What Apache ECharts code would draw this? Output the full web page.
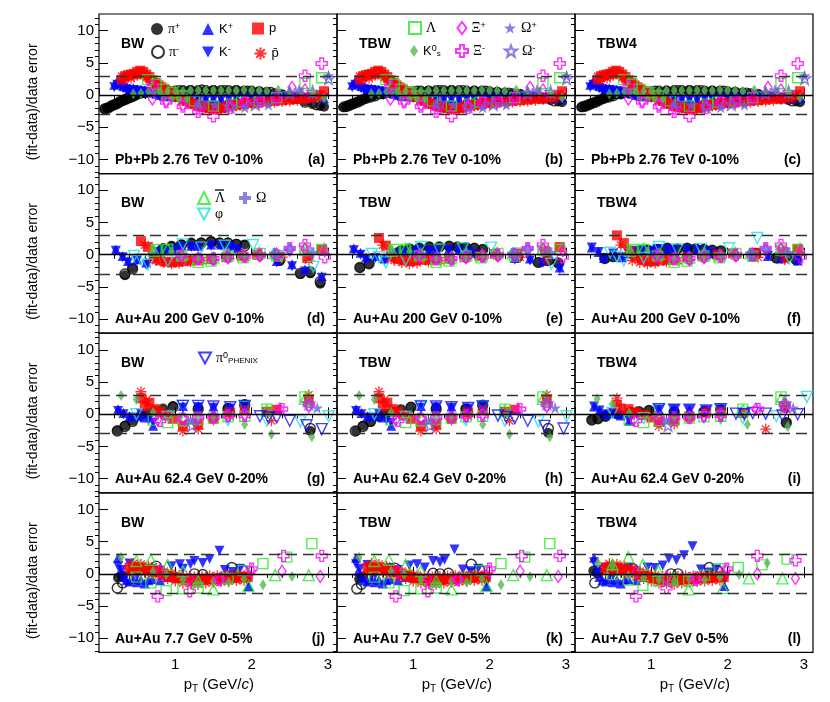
<!DOCTYPE html>
<html>
<head>
<meta charset="utf-8">
<title>(fit-data)/data error</title>
<script src="https://cdn.jsdelivr.net/npm/echarts@6/dist/echarts.min.js"></script>
<style>
  html, body { margin: 0; padding: 0; background: #fff; }
  #chart { width: 830px; height: 702px; }
</style>
</head>
<body>
<div id="chart"></div>
<script>
// ---- labels / ticks ----
var models = ['BW', 'TBW', 'TBW4'];
var systems = ['Pb+Pb 2.76 TeV 0-10%', 'Au+Au 200 GeV 0-10%', 'Au+Au 62.4 GeV 0-20%', 'Au+Au 7.7 GeV 0-5%'];
var tags = ['(a)', '(b)', '(c)', '(d)', '(e)', '(f)', '(g)', '(h)', '(i)', '(j)', '(k)', '(l)'];
var yMajor = [-10, -5, 0, 5, 10];
var yMinor = [-12, -11, -9, -8, -7, -6, -4, -3, -2, -1, 1, 2, 3, 4, 6, 7, 8, 9, 11, 12];
var xMajor = [0, 1, 2, 3];
var xLabels = [1, 2, 3];
var xMinor = [0.2, 0.4, 0.6, 0.8, 1.2, 1.4, 1.6, 1.8, 2.2, 2.4, 2.6, 2.8, 3.0];
var refLines = [0, 3, -3];

// ---- Pb+Pb 2.76 TeV ----
var pb_bw_pip = [[0.07,-2.2],[0.1,-2.0],[0.14,-1.9],[0.18,-1.6],[0.22,-1.4],[0.26,-1.2],[0.3,-0.9],[0.34,-0.7],[0.38,-0.5],[0.42,-0.3],[0.46,-0.1],[0.5,0.1],[0.55,0.2],[0.6,0.3],[0.65,0.4],[0.7,0.5],[0.8,0.6],[0.9,0.7],[1.0,0.7],[1.1,0.8],[1.2,0.8],[1.3,0.8],[1.4,0.8],[1.5,0.8],[1.6,0.8],[1.7,0.8],[1.8,0.8],[1.9,0.7],[2.0,0.7],[2.1,0.6],[2.2,0.5],[2.3,0.3],[2.4,0.1],[2.5,-0.2],[2.6,-0.6],[2.7,-1.0],[2.8,-1.4],[2.9,-1.7],[2.95,-1.8]];
var pb_bw_pim = [[0.08,-2.1],[0.12,-2.0],[0.16,-1.7],[0.2,-1.5],[0.24,-1.3],[0.28,-1.0],[0.32,-0.8],[0.36,-0.6],[0.4,-0.4],[0.44,-0.2],[0.48,0.0],[0.6,0.4],[0.75,0.5],[0.9,0.6],[1.05,0.7],[1.2,0.7],[1.35,0.8],[1.5,0.7],[1.65,0.7],[1.8,0.7],[1.95,0.6],[2.1,0.5],[2.25,0.4],[2.4,0.0],[2.55,-0.5],[2.7,-1.1],[2.85,-1.5]];
var pb_tbw_pip = [[0.08,-1.9],[0.12,-1.8],[0.16,-1.6],[0.2,-1.4],[0.24,-1.2],[0.28,-1.0],[0.32,-0.8],[0.36,-0.6],[0.4,-0.4],[0.45,-0.2],[0.5,0.0],[0.55,0.1],[0.6,0.2],[0.7,0.3],[0.8,0.4],[0.9,0.5],[1.0,0.6],[1.1,0.7],[1.2,0.7],[1.3,0.8],[1.4,0.8],[1.5,0.8],[1.6,0.8],[1.7,0.7],[1.8,0.7],[1.9,0.7],[2.0,0.6],[2.1,0.5],[2.2,0.4],[2.3,0.3],[2.4,0.1],[2.5,-0.1],[2.6,-0.3],[2.7,-0.5],[2.8,-0.8],[2.9,-1.0],[2.95,-1.1]];
var pb_tbw_pim = [[0.1,-1.8],[0.14,-1.7],[0.18,-1.5],[0.22,-1.3],[0.27,-1.1],[0.32,-0.8],[0.38,-0.5],[0.44,-0.3],[0.5,-0.1],[0.6,0.2],[0.75,0.4],[0.9,0.5],[1.05,0.6],[1.2,0.6],[1.35,0.7],[1.5,0.7],[1.65,0.7],[1.8,0.6],[1.95,0.6],[2.1,0.4],[2.25,0.3],[2.4,0.1],[2.55,-0.2],[2.7,-0.5],[2.85,-0.9]];
var pb_bw_kp = [[0.2,1.6],[0.24,2.2],[0.28,1.8],[0.32,1.4],[0.36,1.2],[0.4,1.0],[0.45,1.1],[0.5,0.9],[0.55,0.8],[0.6,0.7],[0.65,0.6],[0.7,0.4],[0.75,0.2],[0.8,0.0],[0.85,-0.1],[0.9,-0.2],[1.0,-0.3],[1.1,-0.4],[1.2,-0.5],[1.3,-0.6],[1.4,-0.6],[1.5,-0.6],[1.6,-0.6],[1.7,-0.5],[1.8,-0.5],[1.9,-0.4],[2.0,-0.4],[2.1,-0.3],[2.2,-0.3],[2.3,-0.3],[2.4,-0.2],[2.5,-0.2],[2.6,-0.2],[2.7,-0.3],[2.8,-0.4],[2.95,-0.5]];
var pb_bw_km = [[0.2,1.2],[0.24,1.6],[0.28,1.3],[0.32,1.1],[0.36,0.9],[0.4,0.8],[0.45,0.8],[0.5,0.7],[0.55,0.6],[0.6,0.5],[0.65,0.4],[0.7,0.3],[0.75,0.1],[0.8,-0.1],[0.85,-0.2],[0.9,-0.3],[1.0,-0.4],[1.1,-0.5],[1.2,-0.6],[1.3,-0.7],[1.4,-0.7],[1.5,-0.7],[1.6,-0.7],[1.7,-0.6],[1.8,-0.6],[1.9,-0.5],[2.0,-0.5],[2.1,-0.4],[2.2,-0.4],[2.3,-0.4],[2.4,-0.3],[2.5,-0.3],[2.6,-0.3],[2.7,-0.4],[2.8,-0.5],[2.95,-0.4]];
var pb_bw_p = [[0.3,2.4],[0.34,2.9],[0.38,3.1],[0.42,3.2],[0.46,3.3],[0.5,3.6],[0.54,3.8],[0.58,3.6],[0.62,3.2],[0.66,2.8],[0.7,2.3],[0.74,1.9],[0.78,1.5],[0.82,1.2],[0.86,0.9],[0.9,0.6],[0.95,0.3],[1.0,0.0],[1.05,-0.3],[1.1,-0.6],[1.15,-0.9],[1.2,-1.2],[1.25,-1.4],[1.3,-1.6],[1.35,-1.8],[1.4,-1.9],[1.45,-2.0],[1.5,-2.1],[1.55,-2.1],[1.6,-2.0],[1.65,-1.9],[1.7,-1.7],[1.75,-1.6],[1.8,-1.5],[1.85,-1.4],[1.9,-1.3],[1.95,-1.2],[2.0,-1.2],[2.1,-1.1],[2.2,-1.0],[2.3,-0.9],[2.4,-0.8],[2.5,-0.7],[2.6,-0.6],[2.7,-0.5],[2.8,-0.3],[2.9,0.0],[2.95,0.6]];
var pb_bw_pbar = [[0.3,2.9],[0.34,2.6],[0.38,2.9],[0.42,2.6],[0.46,3.0],[0.5,3.1],[0.54,3.3],[0.58,3.1],[0.62,2.8],[0.66,2.4],[0.7,2.0],[0.74,1.6],[0.78,1.3],[0.82,1.0],[0.86,0.7],[0.9,0.4],[0.95,0.1],[1.0,-0.2],[1.05,-0.5],[1.1,-0.8],[1.15,-1.0],[1.2,-1.3],[1.25,-1.5],[1.3,-1.7],[1.35,-1.9],[1.4,-2.0],[1.45,-2.1],[1.5,-2.2],[1.55,-2.2],[1.6,-2.1],[1.65,-2.0],[1.7,-1.9],[1.75,-1.8],[1.8,-1.7],[1.85,-1.6],[1.9,-1.5],[1.95,-1.4],[2.0,-1.4],[2.1,-1.3],[2.2,-1.2],[2.3,-1.1],[2.4,-1.0],[2.5,-0.9],[2.6,-0.8],[2.7,-0.7],[2.8,-0.6],[2.9,-0.3]];
var pb_lam = [[0.64,2.4],[0.75,1.7],[0.84,0.9],[0.97,0.4],[1.09,-0.1],[1.25,-0.9],[1.5,-1.7],[1.74,-1.4],[1.87,-1.1],[2.1,-0.9],[2.33,-0.4],[2.7,1.8],[2.92,2.7]];
var pb_k0s = [[0.45,0.2],[0.55,0.3],[0.65,0.5],[0.72,0.4],[0.8,0.5],[0.85,-0.5],[0.9,0.6],[0.95,-0.6],[1.0,0.6],[1.05,-0.5],[1.1,0.6],[1.15,-0.6],[1.2,0.7],[1.3,0.7],[1.4,0.7],[1.5,0.7],[1.6,0.7],[1.7,0.7],[1.8,0.7],[1.9,0.8],[2.0,0.7],[2.1,0.7],[2.2,0.6],[2.35,0.8],[2.5,0.6],[2.65,0.5],[2.8,0.3],[2.95,-0.4]];
var pb_xip = [[0.7,-0.6],[0.88,-0.9],[1.1,-1.5],[1.3,-2.1],[1.72,-1.5],[1.91,-0.9],[2.13,-0.9],[2.33,-0.3],[2.53,1.2],[2.7,0.8]];
var pb_xim = [[0.7,1.4],[0.88,-1.1],[1.1,-1.8],[1.3,-2.6],[1.5,-3.3],[1.72,-2.0],[1.91,-1.2],[2.1,-1.0],[2.33,-0.5],[2.7,3.0],[2.92,4.9]];
var pb_omp = [[1.3,-1.4],[1.52,-1.5],[1.91,-1.9],[2.22,-1.5],[2.62,0.8],[3.01,3.0]];
var pb_omm = [[1.35,-1.2],[1.72,-1.8],[2.05,-1.4],[2.5,0.3],[2.8,0.5],[3.01,2.6]];

// ---- Au+Au 200 GeV ----
var au200_bw_pip = [[0.34,-3.2],[0.44,-2.1],[0.84,1.0],[0.95,1.4],[1.08,1.6],[1.21,1.9],[1.34,1.9],[1.47,2.1],[1.58,1.9],[1.69,1.9],[1.8,1.7],[1.91,1.6],[2.37,-1.0],[2.64,-3.0],[2.77,-2.9],[2.9,-4.5]];
var au200_bw_pim = [[0.34,-3.0],[0.44,-2.2],[0.84,0.9],[0.95,1.2],[1.08,1.5],[1.21,1.7],[1.34,1.8],[1.47,2.0],[1.58,1.8],[1.69,1.8],[1.8,1.6],[1.91,1.4],[2.37,-0.8],[2.64,-2.9],[2.77,-2.7],[2.9,-4.2]];
var au200_bw_kp = [[0.22,0.8],[0.31,-0.2],[0.38,-1.0],[0.5,-0.7],[0.62,-1.2],[0.7,-0.2],[0.77,0.6],[0.88,0.8],[0.99,1.0],[1.08,1.4],[1.21,1.4],[1.3,1.4],[1.47,1.6],[1.6,1.6],[1.73,1.4],[1.82,1.0],[2.33,-1.0],[2.53,-1.5],[2.7,-2.3],[2.92,-3.3]];
var au200_bw_km = [[0.22,0.6],[0.31,-0.4],[0.38,-1.2],[0.5,-0.9],[0.62,-1.6],[0.7,-0.4],[0.77,0.4],[0.88,0.6],[0.99,0.8],[1.08,1.2],[1.21,1.2],[1.3,1.2],[1.47,1.4],[1.6,1.4],[1.73,1.2],[1.82,0.8],[2.33,-1.2],[2.53,-1.8],[2.7,-2.6],[2.92,-3.6]];
var au200_bw_p = [[0.55,2.1],[0.64,1.2],[0.72,-0.6],[0.8,-0.9],[0.88,-1.1],[0.96,-1.2],[1.04,-1.1],[1.12,-1.0],[1.21,-0.9],[1.3,-0.8],[1.47,-0.7],[1.67,-0.4],[1.87,-0.2],[2.07,0.0],[2.37,-0.3],[2.73,-0.5],[2.92,0.8]];
var au200_bw_pbar = [[0.6,1.5],[0.75,-0.9],[0.85,-1.2],[0.95,-1.4],[1.05,-1.3],[1.2,-1.1],[1.35,-0.9],[1.5,-0.8],[1.7,-0.5],[1.9,-0.3],[2.1,-0.2],[2.4,-0.4],[2.75,-0.8]];
var au200_lam = [[0.75,0.8],[0.9,0.8],[1.08,-0.2],[1.3,-1.2],[1.47,-1.0],[1.69,-0.2],[1.89,-0.5],[2.11,0.2],[2.33,-0.2],[2.7,0.7],[2.92,0.8]];
var au200_lambar = [[0.72,0.6],[0.9,0.9],[1.1,0.1],[1.3,-0.6],[1.5,-0.4],[1.7,0.1],[1.9,-0.1],[2.1,0.3],[2.3,0.2],[2.7,1.0],[2.95,0.9]];
var au200_k0s = [[0.72,0.6],[0.95,0.5],[1.08,-0.3],[1.3,-0.6],[1.5,-0.7],[1.69,-0.4],[1.9,-0.2],[2.11,-0.1],[2.33,-0.1],[2.7,0.5]];
var au200_xip = [[1.08,-0.3],[1.3,-0.5],[1.5,-0.8],[1.69,-0.5],[1.91,-0.2],[2.11,-0.2],[2.33,0.1],[2.5,0.7],[2.7,0.9],[2.96,0.6]];
var au200_xim = [[1.08,-0.1],[1.3,-0.7],[1.5,-0.6],[1.69,-0.3],[1.91,-0.3],[2.11,0.0],[2.33,-0.1],[2.5,1.0],[2.7,1.5],[2.96,-0.4]];
var au200_omega = [[2.3,0.2],[2.5,0.9],[2.8,0.3]];
var au200_bw_phi = [[0.46,-0.2],[0.55,-0.7],[0.64,-1.5],[0.9,-1.0],[1.1,1.6],[1.34,1.1],[1.65,1.4],[2.02,1.5],[2.39,-0.2],[2.81,-1.9]];
var au200_tbw_pip = [[0.3,-2.0],[0.42,-1.4],[0.84,0.6],[0.95,0.9],[1.08,1.0],[1.21,1.2],[1.34,1.2],[1.47,1.3],[1.58,1.2],[1.69,1.1],[1.8,1.0],[1.91,0.8],[2.37,-0.3],[2.64,-1.2],[2.77,-0.9],[2.9,-1.3]];
var au200_tbw_kp = [[0.22,1.0],[0.31,0.3],[0.38,-0.4],[0.5,-0.2],[0.62,-0.6],[0.7,0.0],[0.77,0.4],[0.88,0.5],[0.99,0.6],[1.08,0.8],[1.21,0.8],[1.3,0.7],[1.47,0.9],[1.6,0.8],[1.73,0.6],[1.82,0.3],[2.33,-0.5],[2.53,-0.6],[2.7,-1.0],[2.92,-2.0]];
var au200_tbw_km = [[0.22,0.7],[0.31,0.0],[0.38,-0.7],[0.5,-0.5],[0.62,-0.9],[0.7,-0.3],[0.77,0.2],[0.88,0.3],[0.99,0.4],[1.08,0.6],[1.21,0.6],[1.3,0.5],[1.47,0.7],[1.6,0.6],[1.73,0.4],[1.82,0.1],[2.33,-0.8],[2.53,-0.9],[2.7,-1.3],[2.92,-2.2]];
var au200_tbw_p = [[0.55,2.6],[0.64,1.4],[0.72,-0.4],[0.8,-0.7],[0.88,-0.9],[0.96,-1.0],[1.04,-0.9],[1.12,-0.8],[1.21,-0.8],[1.3,-0.7],[1.47,-0.6],[1.67,-0.4],[1.87,-0.2],[2.07,0.1],[2.37,0.2],[2.73,0.5],[2.92,1.2]];
var au200_tbw_phi = [[0.46,0.1],[0.55,-0.4],[0.64,-1.2],[0.9,-0.8],[1.1,1.2],[1.34,0.8],[1.65,1.0],[2.02,1.1],[2.39,0.2],[2.81,-1.4]];
var au200_tbw4_pip = [[0.39,-0.6],[0.5,-0.3],[0.84,0.5],[0.95,0.7],[1.08,0.8],[1.21,1.0],[1.34,0.9],[1.47,1.0],[1.58,0.9],[1.69,0.8],[1.8,0.7],[1.91,0.6],[2.37,0.2],[2.64,-0.5],[2.77,-0.3],[2.9,-0.8]];
var au200_tbw4_kp = [[0.22,1.1],[0.31,0.4],[0.38,-0.5],[0.5,0.2],[0.62,-0.4],[0.7,0.2],[0.77,0.6],[0.88,0.7],[0.99,0.6],[1.08,0.9],[1.21,0.8],[1.3,0.7],[1.47,0.8],[1.6,0.7],[1.73,0.5],[1.82,0.2],[2.33,-0.3],[2.53,-0.2],[2.7,-0.6],[2.92,-0.9]];
var au200_tbw4_p = [[0.55,3.0],[0.64,1.8],[0.72,0.5],[0.8,-0.3],[0.88,-0.8],[0.96,-1.0],[1.04,-1.0],[1.12,-0.9],[1.21,-0.8],[1.3,-0.6],[1.47,-0.4],[1.67,-0.2],[1.87,0.0],[2.07,0.2],[2.37,0.3],[2.73,0.4],[2.92,0.9]];
var au200_tbw4_phi = [[0.46,0.3],[0.55,-0.3],[0.64,-0.9],[0.9,-0.5],[1.1,1.2],[1.34,0.8],[1.65,0.9],[2.02,1.0],[2.39,2.6],[2.81,-0.6]];

// ---- Au+Au 62.4 GeV ----
var au62_bw_pip = [[0.24,-2.5],[0.34,-1.8],[0.44,-1.0],[0.55,-0.2],[0.64,0.2],[0.73,0.5],[0.84,0.9],[0.97,1.3],[1.3,1.0],[1.69,1.0],[1.91,1.6],[2.77,-2.6]];
var au62_bw_pim = [[0.24,-2.6],[0.34,-1.9],[0.44,-1.1],[0.97,1.1],[1.3,0.8],[1.69,0.8],[1.91,1.4],[2.77,-2.2]];
var au62_bw_kp = [[0.25,0.8],[0.32,0.2],[0.4,-0.3],[0.5,-0.3],[0.6,-0.5],[0.71,-1.8],[1.1,1.3],[1.3,1.3],[1.5,1.2],[1.72,1.1],[1.91,1.3]];
var au62_bw_km = [[0.25,0.5],[0.32,0.0],[0.42,-0.5],[0.55,0.1],[0.65,-0.9],[0.71,-1.3],[1.1,1.0],[1.3,1.1],[1.5,1.0],[1.72,0.9],[1.91,1.0]];
var au62_bw_p = [[0.55,2.5],[0.6,1.3],[0.66,1.8],[0.73,0.8],[0.8,0.3],[0.88,-0.2],[0.97,-0.7],[1.1,-1.8],[1.3,-1.6],[1.5,-0.6],[1.72,0.3],[1.91,0.6],[2.2,0.4],[2.33,0.7],[2.75,2.1]];
var au62_bw_pbar = [[0.55,3.5],[0.62,2.2],[0.8,0.6],[1.1,-2.6],[1.3,-2.3],[1.5,-0.9],[1.72,-0.3],[2.26,-1.0],[2.75,3.0]];
var au62_bw_k0s = [[0.29,2.9],[0.49,2.3],[0.71,0.3],[1.06,-0.5],[1.3,-0.6],[1.5,-0.7],[1.91,-1.6],[2.26,-3.1],[2.79,-3.5]];
var au62_lam = [[0.71,-0.9],[0.9,-1.3],[1.1,-1.0],[1.3,-0.8],[1.5,-0.6],[1.69,-0.4],[1.91,-0.3],[2.2,0.8],[2.7,2.7]];
var au62_lambar = [[2.2,0.6],[2.7,2.4]];
var au62_xip = [[0.77,-0.8],[1.1,-0.6],[1.3,-0.6],[1.5,-0.4],[1.69,-0.3],[1.91,0.0],[2.37,0.8],[2.75,1.2]];
var au62_xim = [[0.8,-1.0],[1.1,-0.7],[1.3,-0.5],[1.5,-0.5],[1.69,-0.2],[1.91,-0.2],[2.4,0.8],[2.75,1.5]];
var au62_omp = [[1.2,-1.0],[2.86,1.0]];
var au62_omm = [[1.22,-1.7],[2.75,1.7]];
var au62_bw_phi = [[0.49,0.0],[0.9,-0.4],[1.1,1.3],[1.69,-0.9],[1.91,1.2],[2.2,-1.0],[2.64,-1.1],[3.01,-0.3]];
var au62_bw_pi0 = [[1.1,1.3],[1.3,1.3],[1.5,1.2],[1.72,1.1],[1.91,1.3],[2.11,-0.3],[2.22,-0.5],[2.33,-0.5],[2.5,-1.0],[2.72,-1.7],[2.92,-2.3]];
var au62_tbw_pip = [[0.25,-2.6],[0.34,-1.8],[0.44,-1.2],[0.55,-0.4],[0.64,0.1],[0.73,0.4],[0.84,0.8],[0.97,1.1],[1.3,1.0],[1.69,0.9],[1.91,1.4],[2.77,-2.9]];
var au62_tbw_pi0 = [[1.1,1.2],[1.3,1.2],[1.5,1.1],[1.72,1.0],[1.91,1.2],[2.11,-0.2],[2.22,-0.4],[2.33,-0.6],[2.5,-1.0],[2.72,-1.8],[2.97,-2.2]];
var au62_tbw4_pip = [[0.22,-0.9],[0.3,-0.7],[0.4,-0.3],[0.55,0.1],[0.73,0.3],[0.84,0.4],[0.97,0.6],[1.3,0.4],[1.69,0.4],[1.91,0.7],[2.77,-1.3]];
var au62_tbw4_kp = [[0.25,1.2],[0.32,0.6],[0.4,0.0],[0.5,0.2],[0.6,-0.2],[0.71,-1.0],[1.1,0.8],[1.3,0.8],[1.5,0.7],[1.72,0.6],[1.91,0.8]];
var au62_tbw4_p = [[0.55,1.5],[0.6,0.9],[0.7,0.8],[0.8,0.3],[0.9,-0.1],[1.0,-0.5],[1.1,-1.2],[1.3,-1.0],[1.5,-0.3],[1.72,0.3],[1.91,0.4],[2.2,0.2],[2.75,1.0]];
var au62_tbw4_pbar = [[0.55,2.5],[0.8,0.4],[1.1,-1.8],[1.3,-1.5],[1.5,-0.6],[2.5,-2.3],[2.75,1.5]];
var au62_tbw4_k0s = [[0.29,2.4],[0.49,1.6],[0.71,0.2],[1.06,-0.3],[1.3,-0.4],[1.5,-0.4],[1.91,-0.8],[2.26,-1.6],[2.79,-1.9]];
var au62_tbw4_phi = [[0.49,0.2],[0.9,-0.6],[1.1,0.7],[1.69,-0.5],[1.91,0.8],[2.2,-0.6],[2.64,-0.3],[3.04,2.7]];
var au62_tbw4_pi0 = [[1.1,0.8],[1.3,0.7],[1.5,0.7],[1.72,0.6],[1.91,0.8],[2.11,0.1],[2.22,0.0],[2.33,0.2],[2.5,0.1],[2.72,-0.2],[2.92,0.0]];

// ---- Au+Au 7.7 GeV ----
var au7_bw_pip = [[0.25,-0.6],[0.3,-0.3]];
var au7_bw_pim = [[0.24,-2.2],[0.31,-1.4],[0.37,-0.8],[0.75,1.2],[1.25,0.0],[1.36,-0.1],[1.74,1.0],[1.89,0.5]];
var au7_kp = [[0.25,2.5],[0.28,0.5],[0.32,-0.5],[0.36,-1.0],[0.4,-1.2],[0.45,-0.8],[0.5,-1.3],[0.55,-0.9],[0.6,-1.5],[0.65,-1.0],[0.7,-0.8],[0.8,-1.0],[0.9,-0.5],[1.0,-0.6],[1.96,-1.9]];
var au7_bw_km = [[0.25,1.2],[0.3,0.6],[0.35,-0.4],[0.4,1.6],[0.5,-0.3],[0.6,0.2],[0.7,0.8],[0.8,0.5],[0.95,1.2],[1.06,1.5],[1.1,0.8],[1.2,1.5],[1.25,2.0],[1.36,1.7],[1.45,2.3],[1.58,3.6],[1.65,0.6],[1.75,0.3],[1.85,0.8],[1.95,-1.2]];
var au7_p = [[0.4,1.0],[0.45,1.1],[0.5,0.9],[0.55,1.0],[0.6,0.8],[0.65,0.7],[0.7,0.5],[0.75,0.4],[0.8,0.2],[0.85,0.0],[0.9,-0.2],[0.95,-0.4],[1.0,-0.5],[1.05,-0.7],[1.1,-0.8],[1.15,-0.9],[1.2,-1.0],[1.25,-1.0],[1.3,-1.0],[1.35,-0.9],[1.4,-0.9],[1.45,-0.8],[1.5,-0.8],[1.55,-0.8],[1.6,-0.7],[1.65,-0.7],[1.7,-0.6],[1.75,-0.6],[1.8,-0.6],[1.85,-0.5],[1.9,-0.5],[1.95,-0.5]];
var au7_pbar = [[0.4,0.3],[0.45,1.6],[0.5,0.5],[0.55,1.5],[0.6,0.2],[0.65,1.2],[0.7,0.0],[0.75,0.9],[0.8,-0.4],[0.85,0.4],[0.9,-0.7],[0.95,0.1],[1.0,-1.1],[1.05,-0.2],[1.1,-1.4],[1.15,-0.4],[1.2,-1.5],[1.25,-0.5],[1.3,-1.6],[1.35,-0.4],[1.4,-1.4],[1.45,-0.3],[1.5,-1.3],[1.55,-0.3],[1.6,-1.2],[1.65,-0.2],[1.7,-1.1],[1.75,-0.2],[1.8,-1.0],[1.85,-0.1],[1.9,-1.0],[1.95,-0.1]];
var au7_bw_lam = [[0.49,-0.5],[0.68,-1.4],[0.88,-2.6],[1.1,-2.3],[1.3,-2.2],[1.69,-0.7],[1.89,0.5],[2.15,1.6],[2.46,2.6],[2.79,4.7]];
var au7_bw_lambar = [[0.49,2.0],[0.68,2.2],[0.9,1.4],[1.1,0.4],[1.3,-1.1],[1.5,-2.4],[1.96,-1.9],[2.31,-0.2],[2.75,-0.2]];
var au7_bw_k0s = [[0.29,2.6],[0.71,0.4],[0.88,-0.1],[1.1,-0.9],[1.3,-1.6],[1.5,-1.2],[1.7,-1.3],[1.9,-0.8],[2.15,-1.7],[2.53,-0.4]];
var au7_bw_xim = [[0.77,-3.5],[1.19,-2.7],[1.58,-0.9],[2.0,0.8],[2.42,2.8],[2.92,2.8]];
var au7_bw_xip = [[0.8,0.4],[1.19,-0.7],[1.58,-0.8],[2.0,0.4],[2.4,0.4],[2.9,-0.4]];
var au7_tbw_pip = [[0.29,-0.8],[0.33,-0.4]];
var au7_tbw_pim = [[0.26,-2.3],[0.32,-1.6],[0.4,-0.6],[0.76,0.9],[1.26,0.1],[1.35,0.0],[1.46,0.1],[1.76,1.5],[1.87,0.6]];
var au7_tbw_km = [[0.25,1.5],[0.3,0.8],[0.4,1.4],[0.5,-0.2],[0.6,0.4],[0.7,0.9],[0.8,0.6],[0.95,1.3],[1.05,1.5],[1.15,1.0],[1.26,2.0],[1.35,1.8],[1.41,2.2],[1.54,3.8],[1.65,0.7],[1.75,0.4],[1.85,0.8],[1.96,-1.3]];
var au7_tbw4_pip = [[0.24,0.5],[0.3,0.2]];
var au7_tbw4_pim = [[0.26,-1.4],[0.3,0.2],[0.4,-0.3],[0.76,0.8],[1.26,0.0],[1.35,0.0],[1.76,1.0],[1.87,0.5]];
var au7_tbw4_km = [[0.25,1.8],[0.3,0.6],[0.4,0.9],[0.5,-0.2],[0.6,0.4],[0.7,0.9],[0.8,0.4],[0.95,1.0],[1.05,0.9],[1.15,1.3],[1.23,2.4],[1.33,2.1],[1.43,2.9],[1.54,4.3],[1.65,0.7],[1.75,0.2],[1.85,0.7],[1.96,-0.9]];
var au7_tbw4_lam = [[0.49,-0.1],[0.7,-0.9],[0.89,-1.8],[1.09,-1.1],[1.28,-1.0],[1.49,-1.1],[1.7,-0.2],[1.89,0.8],[2.14,1.0],[2.45,1.4],[2.78,2.3]];
var au7_tbw4_lambar = [[0.49,1.5],[0.7,2.6],[0.89,1.4],[1.09,0.5],[1.28,-0.7],[1.49,-2.4],[1.94,-2.2],[2.28,-0.7],[2.72,-0.7]];
var au7_tbw4_xim = [[0.8,-3.5],[1.2,-2.2],[1.58,-0.9],[1.99,0.8],[2.39,2.8],[2.89,2.1]];
var au7_tbw4_xip = [[0.8,0.3],[1.2,-0.5],[1.58,-0.6],[1.99,0.5],[2.39,0.0],[2.89,-0.7]];
var au7_tbw4_k0s = [[0.3,1.7],[0.49,1.2],[0.7,-0.3],[0.9,-0.6],[1.1,-0.9],[1.3,-1.1],[1.5,-0.8],[1.7,-0.9],[1.9,-0.5],[2.15,-0.1],[2.52,1.7]];

// panel contents (row by row)
var panels = [
  {pim: pb_bw_pim, pip: pb_bw_pip, km: pb_bw_km, kp: pb_bw_kp, pbar: pb_bw_pbar, p: pb_bw_p, lam: pb_lam, k0s: pb_k0s, xip: pb_xip, xim: pb_xim, omp: pb_omp, omm: pb_omm},
  {pim: pb_tbw_pim, pip: pb_tbw_pip, km: pb_bw_km, kp: pb_bw_kp, pbar: pb_bw_pbar, p: pb_bw_p, lam: pb_lam, k0s: pb_k0s, xip: pb_xip, xim: pb_xim, omp: pb_omp, omm: pb_omm},
  {pim: pb_tbw_pim, pip: pb_tbw_pip, km: pb_bw_km, kp: pb_bw_kp, pbar: pb_bw_pbar, p: pb_bw_p, lam: pb_lam, k0s: pb_k0s, xip: pb_xip, xim: pb_xim, omp: pb_omp, omm: pb_omm},
  {pim: au200_bw_pim, pip: au200_bw_pip, km: au200_bw_km, kp: au200_bw_kp, pbar: au200_bw_pbar, p: au200_bw_p, lam: au200_lam, lambar: au200_lambar, k0s: au200_k0s, phi: au200_bw_phi, xip: au200_xip, xim: au200_xim, omega: au200_omega},
  {pim: au200_tbw_pip, pip: au200_tbw_pip, km: au200_tbw_km, kp: au200_tbw_kp, pbar: au200_bw_pbar, p: au200_tbw_p, lam: au200_lam, lambar: au200_lambar, k0s: au200_k0s, phi: au200_tbw_phi, xip: au200_xip, xim: au200_xim, omega: au200_omega},
  {pim: au200_tbw4_pip, pip: au200_tbw4_pip, km: au200_tbw4_kp, kp: au200_tbw4_kp, pbar: au200_bw_pbar, p: au200_tbw4_p, lam: au200_lam, lambar: au200_lambar, k0s: au200_k0s, phi: au200_tbw4_phi, xip: au200_xip, xim: au200_xim, omega: au200_omega},
  {pim: au62_bw_pim, pip: au62_bw_pip, km: au62_bw_km, kp: au62_bw_kp, pbar: au62_bw_pbar, p: au62_bw_p, lam: au62_lam, lambar: au62_lambar, k0s: au62_bw_k0s, phi: au62_bw_phi, pi0: au62_bw_pi0, xip: au62_xip, xim: au62_xim, omp: au62_omp, omm: au62_omm},
  {pim: au62_bw_pim, pip: au62_tbw_pip, km: au62_bw_km, kp: au62_bw_kp, pbar: au62_bw_pbar, p: au62_bw_p, lam: au62_lam, lambar: au62_lambar, k0s: au62_bw_k0s, phi: au62_bw_phi, pi0: au62_tbw_pi0, xip: au62_xip, xim: au62_xim, omp: au62_omp, omm: au62_omm},
  {pim: au62_tbw4_pip, pip: au62_tbw4_pip, km: au62_tbw4_kp, kp: au62_tbw4_kp, pbar: au62_tbw4_pbar, p: au62_tbw4_p, lam: au62_lam, lambar: au62_lambar, k0s: au62_tbw4_k0s, phi: au62_tbw4_phi, pi0: au62_tbw4_pi0, xip: au62_xip, xim: au62_xim, omp: au62_omp, omm: au62_omm},
  {pim: au7_bw_pim, pip: au7_bw_pip, km: au7_bw_km, kp: au7_kp, pbar: au7_pbar, p: au7_p, lam: au7_bw_lam, lambar: au7_bw_lambar, k0s: au7_bw_k0s, xip: au7_bw_xip, xim: au7_bw_xim},
  {pim: au7_tbw_pim, pip: au7_tbw_pip, km: au7_tbw_km, kp: au7_kp, pbar: au7_pbar, p: au7_p, lam: au7_bw_lam, lambar: au7_bw_lambar, k0s: au7_bw_k0s, xip: au7_bw_xip, xim: au7_bw_xim},
  {pim: au7_tbw4_pim, pip: au7_tbw4_pip, km: au7_tbw4_km, kp: au7_kp, pbar: au7_pbar, p: au7_p, lam: au7_tbw4_lam, lambar: au7_tbw4_lambar, k0s: au7_tbw4_k0s, xip: au7_tbw4_xip, xim: au7_tbw4_xim}
];

// marker shapes
var TRI_DN = 'path://M0,0L10,0L5,9Z';
var CROSS = 'path://M3.3,0H6.7V3.3H10V6.7H6.7V10H3.3V6.7H0V3.3H3.3Z';
var STAR = 'path://M5,0L6.2,3.6L10,3.6L7,5.9L8.1,9.5L5,7.3L1.9,9.5L3,5.9L0,3.6L3.8,3.6Z';
var ASTER = 'path://M5,0V10M0,5H10M1.5,1.5L8.5,8.5M8.5,1.5L1.5,8.5';
var SLATE = '#6a62d6';

var STY = {
  pim:    {sym: 'circle', size: 10, open: true, c: '#000'},
  pip:    {sym: 'circle', size: 10, c: '#000'},
  km:     {sym: TRI_DN, size: 10, c: '#0000ff'},
  kp:     {sym: 'triangle', size: 10, c: '#0000ff'},
  pbar:   {sym: ASTER, size: 11, line: true, c: '#ff0000'},
  p:      {sym: 'rect', size: 10, c: '#ff0000'},
  lam:    {sym: 'rect', size: 10, open: true, c: '#22ee22'},
  lambar: {sym: 'triangle', size: 11, open: true, c: '#22ee22'},
  k0s:    {sym: 'diamond', size: [7, 11], c: '#55b855'},
  phi:    {sym: TRI_DN, size: 11, open: true, c: '#22dede'},
  pi0:    {sym: TRI_DN, size: 11, open: true, c: '#1010ff'},
  xip:    {sym: 'diamond', size: [8, 12], open: true, c: '#ff00ff'},
  xim:    {sym: CROSS, size: 11, open: true, c: '#ff00ff'},
  omp:    {sym: STAR, size: 12, c: SLATE},
  omm:    {sym: STAR, size: 12, open: true, c: SLATE},
  omega:  {sym: CROSS, size: 11, c: SLATE}
};
var ORDER = ['pim', 'pip', 'km', 'kp', 'pbar', 'p', 'lam', 'lambar', 'k0s', 'phi', 'pi0', 'xip', 'xim', 'omp', 'omm', 'omega'];

var LABEL = {
  pip: '{g|π}{sup|+}', pim: '{g|π}{sup|-}', kp: '{n|K}{sup|+}', km: '{n|K}{sup|-}',
  p: '{n|p}', pbar: '{n|p\u0304}', lam: '{g|Λ}', k0s: '{n|K}{sup|0}{sub|s}',
  xip: '{g|Ξ}{sup|+}', xim: '{g|Ξ}{sup|-}', omp: '{g|Ω}{sup|+}', omm: '{g|Ω}{sup|-}',
  lambar: '{g|Λ}', omega: '{g|Ω}', phi: '{g|φ}', pi0: '{g|π}{sup|0}{sub|PHENIX}'
};
// legend entries: name, icon centre x, y
var LEG = [
  ['pip', 157, 29], ['kp', 208, 29], ['p', 258, 29],
  ['pim', 157, 52], ['km', 208, 52], ['pbar', 258, 52],
  ['lam', 414, 28], ['xip', 461, 28], ['omp', 510, 28],
  ['k0s', 414, 51], ['xim', 461, 51], ['omm', 510, 51],
  ['lambar', 203, 198], ['omega', 245, 198], ['phi', 203, 214],
  ['pi0', 204, 358]
];

var FONT = '"Liberation Sans", Arial, Helvetica, sans-serif';
var SERIF = '"Liberation Serif", "DejaVu Serif", serif';
var GX = 99, GY = 14, GW = 238, GH = 159.6;

function styleOf(s) {
  if (s.open) return {color: 'rgba(0,0,0,0)', borderColor: s.c, borderWidth: 1.4};
  if (s.line) return {color: 'none', borderColor: s.c, borderWidth: 1.3};
  return {color: s.c};
}
function minus(v) { return v < 0 ? '\u2212' + (-v) : String(v); }

var grids = [], xAxes = [], yAxes = [], series = [], graphics = [], legends = [];

panels.forEach(function (sets, i) {
  var r = Math.floor(i / 3), c = i % 3;
  var left = GX + c * GW, top = GY + r * GH;
  grids.push({left: left, top: top, width: GW, height: GH, show: true, borderColor: '#000', borderWidth: 1.2});

  xAxes.push({type: 'value', gridIndex: i, min: 0, max: 3.12, axisLine: {show: false}, splitLine: {show: false},
    axisTick: {inside: true, length: 7, customValues: xMajor, lineStyle: {color: '#000'}},
    axisLabel: {show: r === 3, customValues: xLabels, color: '#000', fontSize: 15, fontFamily: FONT, margin: 5}});
  xAxes.push({type: 'value', gridIndex: i, min: 0, max: 3.12, axisLine: {show: false}, splitLine: {show: false},
    axisLabel: {show: false}, axisTick: {inside: true, length: 4, customValues: xMinor, lineStyle: {color: '#000'}}});
  yAxes.push({type: 'value', gridIndex: i, min: -12.2, max: 12.6, axisLine: {show: false}, splitLine: {show: false},
    axisTick: {inside: true, length: 9, customValues: yMajor, lineStyle: {color: '#000'}},
    axisLabel: {show: c === 0, customValues: yMajor, formatter: minus, color: '#000', fontSize: 15, fontFamily: FONT, margin: 5}});
  yAxes.push({type: 'value', gridIndex: i, min: -12.2, max: 12.6, axisLine: {show: false}, splitLine: {show: false},
    axisLabel: {show: false}, axisTick: {inside: true, length: 4, customValues: yMinor, lineStyle: {color: '#000'}}});

  // zero line and +-3 dashed lines
  series.push({type: 'scatter', xAxisIndex: 2 * i, yAxisIndex: 2 * i, data: [], silent: true, z: 1,
    markLine: {silent: true, symbol: ['none', 'none'], label: {show: false},
      data: refLines.map(function (v) {
        return {yAxis: v, lineStyle: {color: v === 0 ? '#000' : '#333', width: 1.3, type: v === 0 ? 'solid' : [11, 6]}};
      })}});

  ORDER.forEach(function (k) {
    if (!sets[k]) return;
    var s = STY[k];
    series.push({type: 'scatter', name: k, xAxisIndex: 2 * i, yAxisIndex: 2 * i, data: sets[k],
      symbol: s.sym, symbolSize: s.size, itemStyle: styleOf(s), z: 3});
  });

  graphics.push({type: 'text', x: left + 22, y: top + 30, style: {text: models[c], font: 'bold 14px ' + FONT, fill: '#000', verticalAlign: 'middle'}});
  graphics.push({type: 'text', x: left + 16, y: top + 146, style: {text: systems[r], font: 'bold 14px ' + FONT, fill: '#000', verticalAlign: 'middle'}});
  graphics.push({type: 'text', x: left + GW - 12, y: top + 146, style: {text: tags[i], font: 'bold 14px ' + FONT, fill: '#000', align: 'right', verticalAlign: 'middle'}});
});

for (var r = 0; r < 4; r++) {
  graphics.push({type: 'text', x: 33, y: GY + r * GH + GH / 2 + 8, rotation: Math.PI / 2,
    style: {text: '(fit-data)/data error', font: '14px ' + FONT, fill: '#000', align: 'center', verticalAlign: 'middle'}});
}
for (var c = 0; c < 3; c++) {
  graphics.push({type: 'text', x: GX + c * GW + 155, y: 685,
    style: {text: '{a|p}{s|T}{a| (GeV/}{i|c}{a|)}', align: 'right', verticalAlign: 'middle', fill: '#000',
      rich: {a: {fontSize: 15, fontFamily: FONT, lineHeight: 18}, i: {fontSize: 15, fontFamily: FONT, fontStyle: 'italic', lineHeight: 18},
        s: {fontSize: 10, fontFamily: FONT, lineHeight: 6, verticalAlign: 'bottom'}}}});
}
// bar over the anti-Lambda legend symbol
graphics.push({type: 'line', shape: {x1: 215, y1: 190, x2: 224, y2: 190}, style: {stroke: '#000', lineWidth: 1.3}});

LEG.forEach(function (e) {
  var s = STY[e[0]];
  var w = Array.isArray(s.size) ? s.size[0] + 1 : 12;
  legends.push({data: [e[0]], left: e[1] - w / 2, top: e[2] - 7, padding: 0, itemWidth: w, itemHeight: 12,
    selectedMode: false, formatter: function (n) { return LABEL[n]; },
    textStyle: {rich: {
      n: {fontSize: 13, fontFamily: FONT, lineHeight: 14, color: '#000'},
      g: {fontSize: 14, fontFamily: SERIF, lineHeight: 14, color: '#000'},
      sup: {fontSize: 9, fontFamily: FONT, lineHeight: 4, verticalAlign: 'top', color: '#000'},
      sub: {fontSize: 8, fontFamily: FONT, lineHeight: 4, verticalAlign: 'bottom', color: '#000'}
    }}});
});

var chart = echarts.init(document.getElementById('chart'));
chart.setOption({
  animation: false,
  grid: grids,
  xAxis: xAxes,
  yAxis: yAxes,
  legend: legends,
  graphic: graphics,
  series: series
});
</script>
</body>
</html>
